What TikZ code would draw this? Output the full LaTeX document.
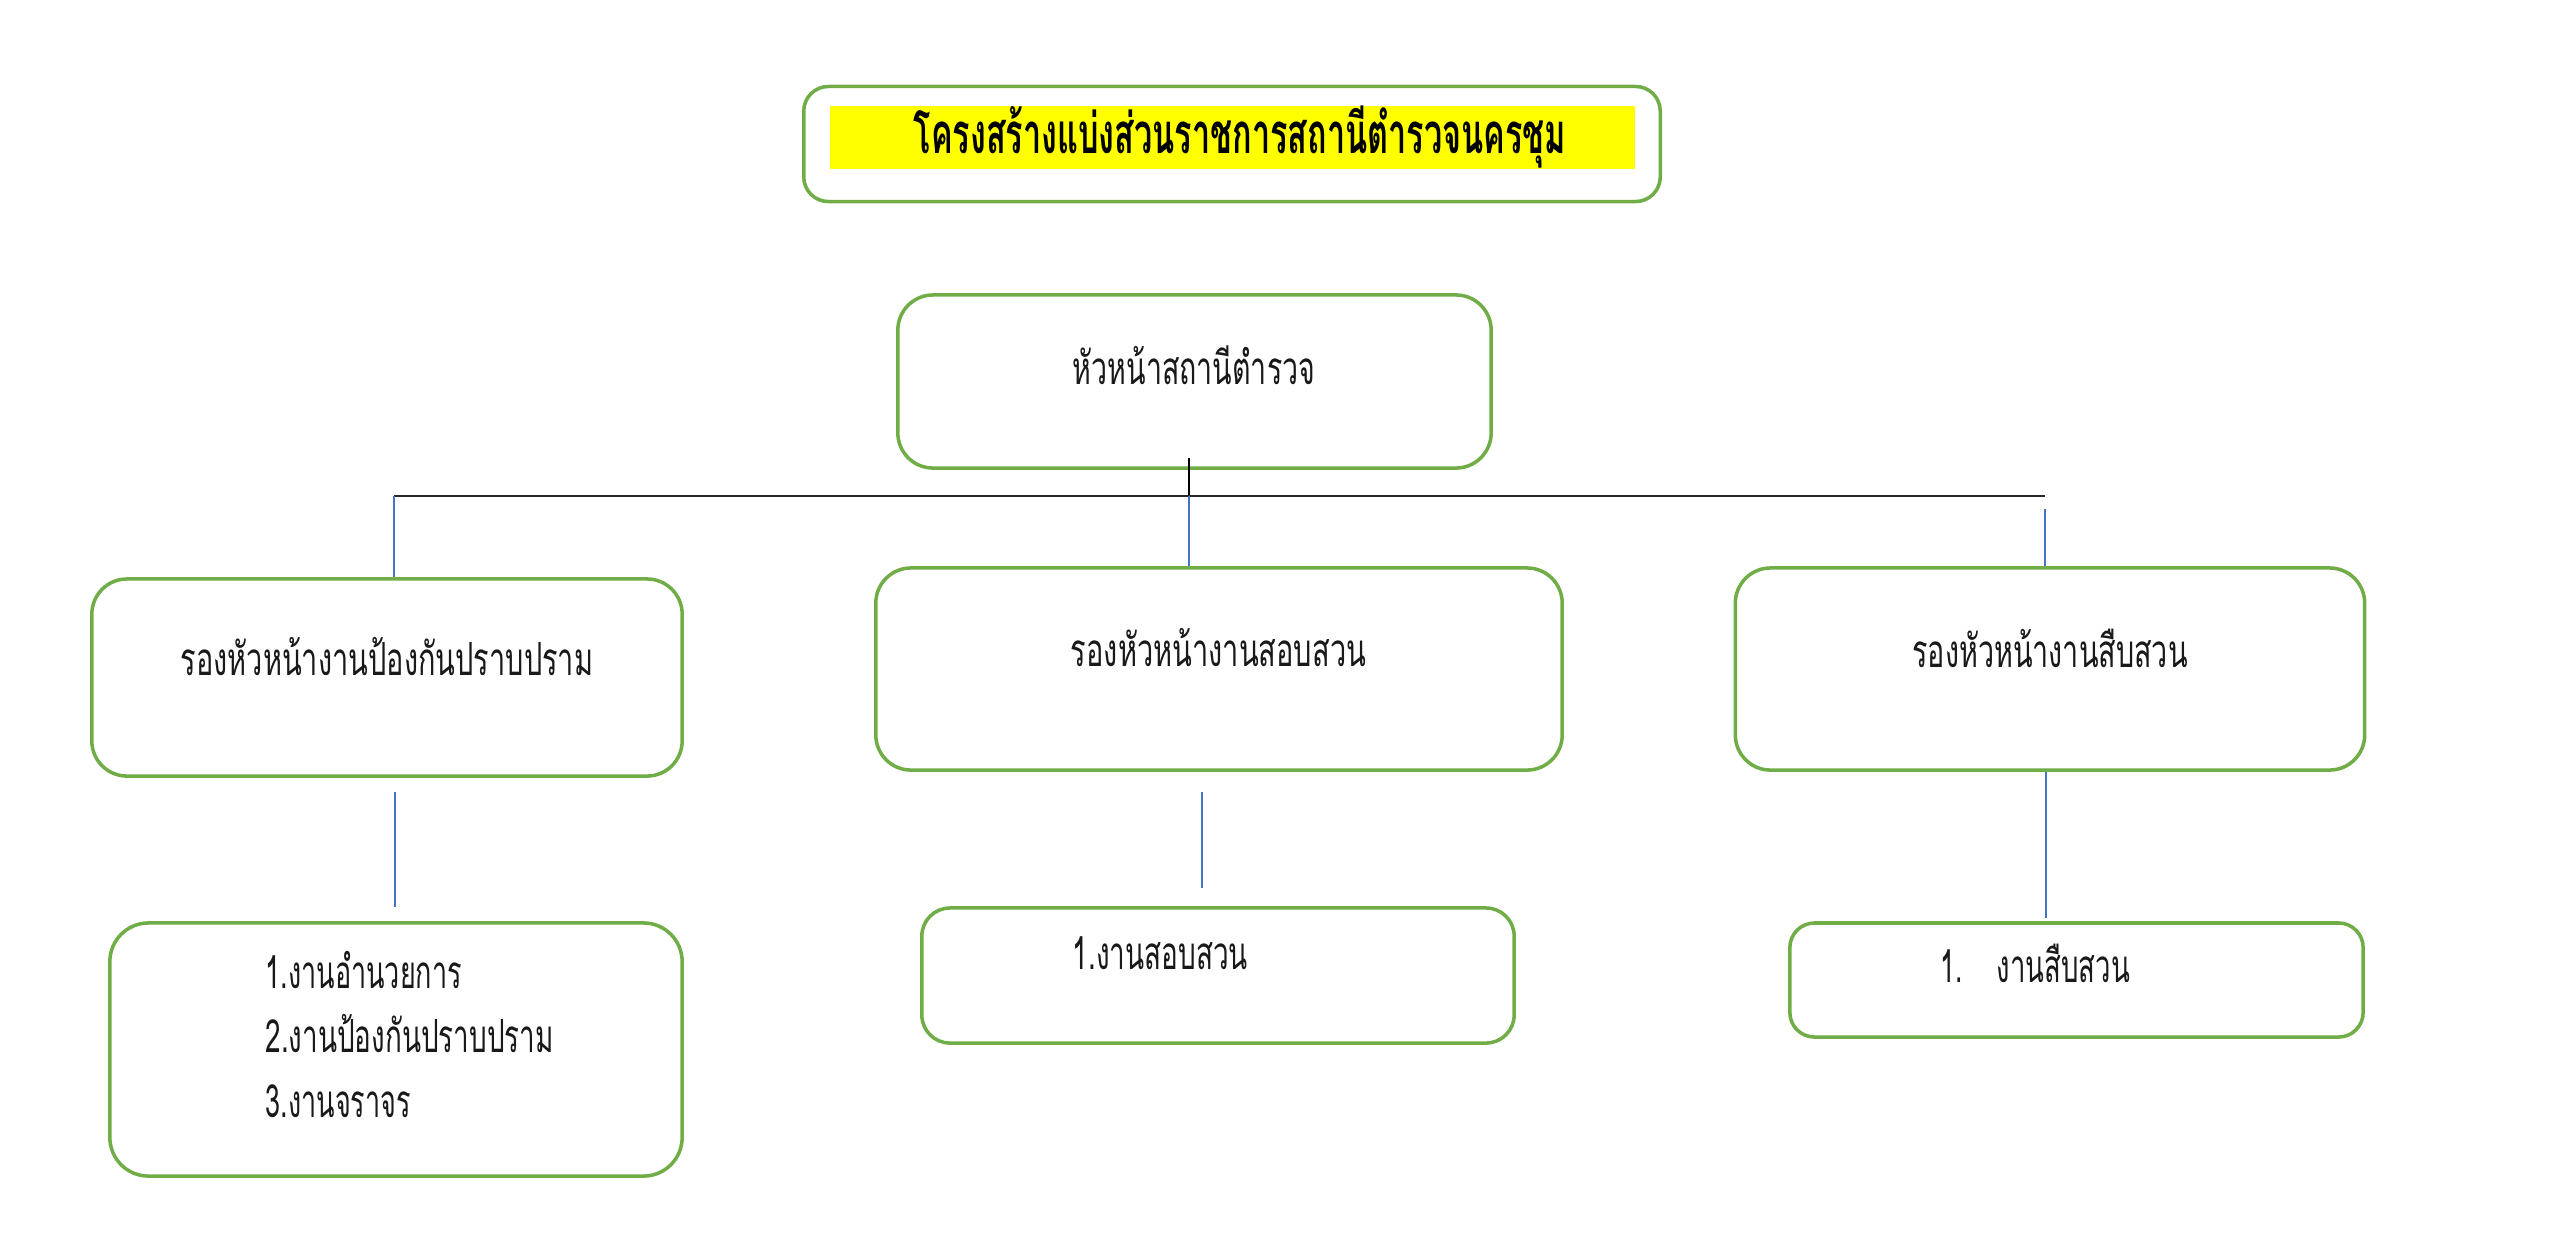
\documentclass[tikz,border=0pt]{standalone}
\usepackage{fontspec}
\usepackage{graphicx}
\newfontfamily\thai[Script=Thai]{Loma}
\newfontfamily\thaib[Script=Thai]{Loma Bold}
\newcommand{\fitw}[2]{\resizebox{#1}{\height}{#2}}
\definecolor{boxgreen}{HTML}{70AD47}
\definecolor{linkblue}{HTML}{4472C4}
\definecolor{titleyellow}{HTML}{FFFF00}
\tikzset{
  orgbox/.style={draw=boxgreen,line width=1pt,rounded corners=#1,fill=white,inner sep=0pt},
  orgbox/.default=9pt,
  lbl/.style={font=\thai\fontsize{13}{16}\selectfont,inner sep=0pt,text=black!90},
  titlelbl/.style={font=\thaib\fontsize{16}{19}\selectfont,inner sep=0pt,text=black},
  barline/.style={draw=black!85,line width=0.7pt},
  blueline/.style={draw=linkblue,line width=0.4pt}
}
\begin{document}
\begin{tikzpicture}[x=0.01cm,y=-0.01cm]
\useasboundingbox (0,0) rectangle (2560,1244);
% title
\node[orgbox=7pt,minimum width=8.56cm,minimum height=1.15cm] (title) at (1232,144) {};
\node[fill=titleyellow,inner sep=0pt,minimum width=8.05cm,minimum height=0.63cm] (yellow) at (1232.5,137.5) {};
\node[titlelbl,anchor=base] (titletxt) at (1240,153) {\fitw{6.52cm}{โครงสร้างแบ่งส่วนราชการสถานีตำรวจนครชุม}};
% head
\node[orgbox=10pt,minimum width=5.93cm,minimum height=1.73cm] (head) at (1194.5,381.5) {};
\node[lbl,anchor=base] (headtxt) at (1194,384) {\fitw{2.42cm}{หัวหน้าสถานีตำรวจ}};
% deputies
\node[orgbox=10pt,minimum width=5.90cm,minimum height=1.97cm] (left) at (387,677.5) {};
\node[lbl,anchor=base] (lefttxt) at (387,675) {\fitw{4.12cm}{รองหัวหน้างานป้องกันปราบปราม}};
\node[orgbox=10pt,minimum width=6.86cm,minimum height=2.02cm] (mid) at (1219,669) {};
\node[lbl,anchor=base] (midtxt) at (1218.5,666) {\fitw{2.95cm}{รองหัวหน้างานสอบสวน}};
\node[orgbox=10pt,minimum width=6.29cm,minimum height=2.02cm] (right) at (2050,669) {};
\node[lbl,anchor=base] (righttxt) at (2050,667) {\fitw{2.75cm}{รองหัวหน้างานสืบสวน}};
% sections
\node[orgbox=11pt,minimum width=5.72cm,minimum height=2.53cm] (leftsub) at (396,1049.5) {};
\node[lbl,anchor=base west] (ls1) at (265,988) {\fitw{1.96cm}{1.งานอำนวยการ}};
\node[lbl,anchor=base west] (ls2) at (265,1052) {\fitw{2.88cm}{2.งานป้องกันปราบปราม}};
\node[lbl,anchor=base west] (ls3) at (265,1117) {\fitw{1.45cm}{3.งานจราจร}};
\node[orgbox=8pt,minimum width=5.92cm,minimum height=1.35cm] (midsub) at (1218,975.5) {};
\node[lbl,anchor=base west] (ms1) at (1072,969) {\fitw{1.75cm}{1.งานสอบสวน}};
\node[orgbox=7pt,minimum width=5.73cm,minimum height=1.14cm] (rightsub) at (2076.5,980) {};
\node[lbl,anchor=base west] (rsn) at (1940,982) {\fitw{0.22cm}{1.}};
\node[lbl,anchor=base west] (rs1) at (1996,982) {\fitw{1.33cm}{งานสืบสวน}};
% connectors
\coordinate (stem) at (1189,458);
\coordinate (barL) at (394,496);
\coordinate (barM) at (1189,496);
\coordinate (barR) at (2045,496);
\coordinate (gapR) at (2045,509);
\draw[draw=black,line width=0.4pt] (stem) -- (barM);
\draw[barline] (barL) -- (barR);
\draw[blueline] (barL) -- (barL |- left.north);
\draw[blueline] (barM) -- (barM |- mid.north);
\draw[blueline] (gapR) -- (gapR |- right.north);
\coordinate (lA) at (395,792);
\coordinate (lB) at (395,907);
\coordinate (mA) at (1202,792);
\coordinate (mB) at (1202,888);
\coordinate (rB) at (2046,918);
\draw[blueline] (lA) -- (lB);
\draw[blueline] (mA) -- (mB);
\draw[blueline] (rB |- right.south) -- (rB);
\end{tikzpicture}
\end{document}
